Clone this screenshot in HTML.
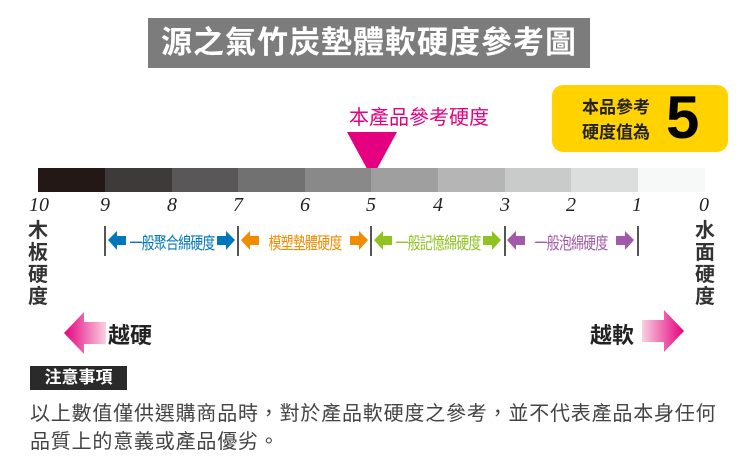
<!DOCTYPE html>
<html><head><meta charset="utf-8"><style>
*{margin:0;padding:0;box-sizing:border-box}
body{width:750px;height:466px;background:#fff;position:relative;overflow:hidden;font-family:"Liberation Sans","Noto Sans CJK TC",sans-serif}
.a{position:absolute;white-space:nowrap}
.seg{position:absolute;top:168px;height:24px}
.num{position:absolute;top:194px;font:italic 20px "Liberation Serif",serif;color:#222;width:30px;text-align:center}
.tick{position:absolute;top:226px;width:1.5px;height:30px;background:#555}
.lbl{position:absolute;top:229px;font-size:17px;text-align:center;white-space:nowrap;display:flex;justify-content:center}
.lbl span{display:inline-block;transform:scaleX(0.76);letter-spacing:-1px}
.vt{position:absolute;width:22px;font-size:20px;line-height:22px;color:#333;font-weight:bold;text-align:center}
</style></head><body>
<div class="a" style="left:148px;top:18px;width:442px;height:50px;background:#7c7c7c;color:#fff;font-size:31px;font-weight:bold;line-height:50px;text-align:center;letter-spacing:1px">源之氣竹炭墊體軟硬度參考圖</div>
<div class="a" style="left:349px;top:101px;font-size:20px;color:#e4007f">本產品參考硬度</div>
<svg class="a" style="left:345px;top:132px" width="54" height="48"><polygon points="2,0 52,0 27,46" fill="#e4007f"/></svg>
<div class="a" style="left:552px;top:85px;width:176px;height:67px;background:#ffd200;border-radius:11px"></div>
<div class="a" style="left:582px;top:95px;font-size:17px;line-height:25px;font-weight:bold;color:#222">本品參考<br>硬度值為</div>
<div class="a" style="left:666px;top:83px;font-size:60px;font-weight:bold;color:#000;line-height:70px">5</div>
<div class="seg" style="left:38px;width:67px;background:#231815"></div>
<div class="seg" style="left:105px;width:67px;background:#3e3a39"></div>
<div class="seg" style="left:172px;width:66px;background:#595757"></div>
<div class="seg" style="left:238px;width:67px;background:#727171"></div>
<div class="seg" style="left:305px;width:66px;background:#898989"></div>
<div class="seg" style="left:371px;width:67px;background:#9f9fa0"></div>
<div class="seg" style="left:438px;width:67px;background:#b5b5b6"></div>
<div class="seg" style="left:505px;width:66px;background:#c9caca"></div>
<div class="seg" style="left:571px;width:67px;background:#dcdddd"></div>
<div class="seg" style="left:638px;width:67px;background:#f7f8f8"></div>
<div class="num" style="left:24px">10</div>
<div class="num" style="left:90px">9</div>
<div class="num" style="left:157px">8</div>
<div class="num" style="left:223px">7</div>
<div class="num" style="left:290px">6</div>
<div class="num" style="left:356px">5</div>
<div class="num" style="left:423px">4</div>
<div class="num" style="left:490px">3</div>
<div class="num" style="left:556px">2</div>
<div class="num" style="left:622px">1</div>
<div class="num" style="left:689px">0</div>
<div class="vt" style="left:27px;top:220px">木<br>板<br>硬<br>度</div>
<div class="vt" style="left:694px;top:220px">水<br>面<br>硬<br>度</div>
<div class="tick" style="left:104px"></div><div class="tick" style="left:237px"></div><div class="tick" style="left:370px"></div><div class="tick" style="left:504px"></div><div class="tick" style="left:637px"></div>
<svg class="a" style="left:0;top:228px" width="750" height="26">
<g fill="#0077bb"><polygon points="108,12 117,3 117,8 126,8 126,17 117,17 117,22"/><polygon points="235,12 226,3 226,8 217,8 217,17 226,17 226,22"/></g>
<g fill="#f08c00"><polygon points="241,12 250,3 250,8 259,8 259,17 250,17 250,22"/><polygon points="368,12 359,3 359,8 350,8 350,17 359,17 359,22"/></g>
<g fill="#8fc31f"><polygon points="374,12 383,3 383,8 392,8 392,17 383,17 383,22"/><polygon points="501,12 492,3 492,8 483,8 483,17 492,17 492,22"/></g>
<g fill="#a05aa8"><polygon points="507,12 516,3 516,8 525,8 525,17 516,17 516,22"/><polygon points="634,12 625,3 625,8 616,8 616,17 625,17 625,22"/></g>
</svg>
<div class="lbl" style="left:126px;width:91px;color:#0077bb"><span>一般聚合綿硬度</span></div>
<div class="lbl" style="left:259px;width:91px;color:#f08c00"><span>模塑墊體硬度</span></div>
<div class="lbl" style="left:392px;width:91px;color:#8fc31f"><span>一般記憶綿硬度</span></div>
<div class="lbl" style="left:525px;width:91px;color:#a05aa8"><span>一般泡綿硬度</span></div>
<svg class="a" style="left:60px;top:310px" width="50" height="46"><defs><linearGradient id="g1" x1="0" x2="1"><stop offset="0" stop-color="#e4007f"/><stop offset="1" stop-color="#f9d0e0"/></linearGradient><linearGradient id="g2" x1="1" x2="0"><stop offset="0" stop-color="#e4007f"/><stop offset="1" stop-color="#f9d0e0"/></linearGradient></defs><polygon points="4,23 24,2 24,12 46,12 46,34 24,34 24,44" fill="url(#g1)"/></svg>
<div class="a" style="left:108px;top:318px;font-size:22px;font-weight:bold;color:#222">越硬</div>
<div class="a" style="left:590px;top:318px;font-size:22px;font-weight:bold;color:#222">越軟</div>
<svg class="a" style="left:638px;top:308px" width="50" height="46"><polygon points="46,23 26,2 26,12 4,12 4,34 26,34 26,44" fill="url(#g2)"/></svg>
<div class="a" style="left:30px;top:366px;width:97px;height:24px;background:#2a2a2a;color:#fff;font-size:17px;font-weight:bold;line-height:24px;text-align:center">注意事項</div>
<div class="a" style="left:30px;top:400px;font-size:20px;line-height:28px;color:#444;letter-spacing:0.8px">以上數值僅供選購商品時，對於產品軟硬度之參考，並不代表產品本身任何<br>品質上的意義或產品優劣。</div>
</body></html>
